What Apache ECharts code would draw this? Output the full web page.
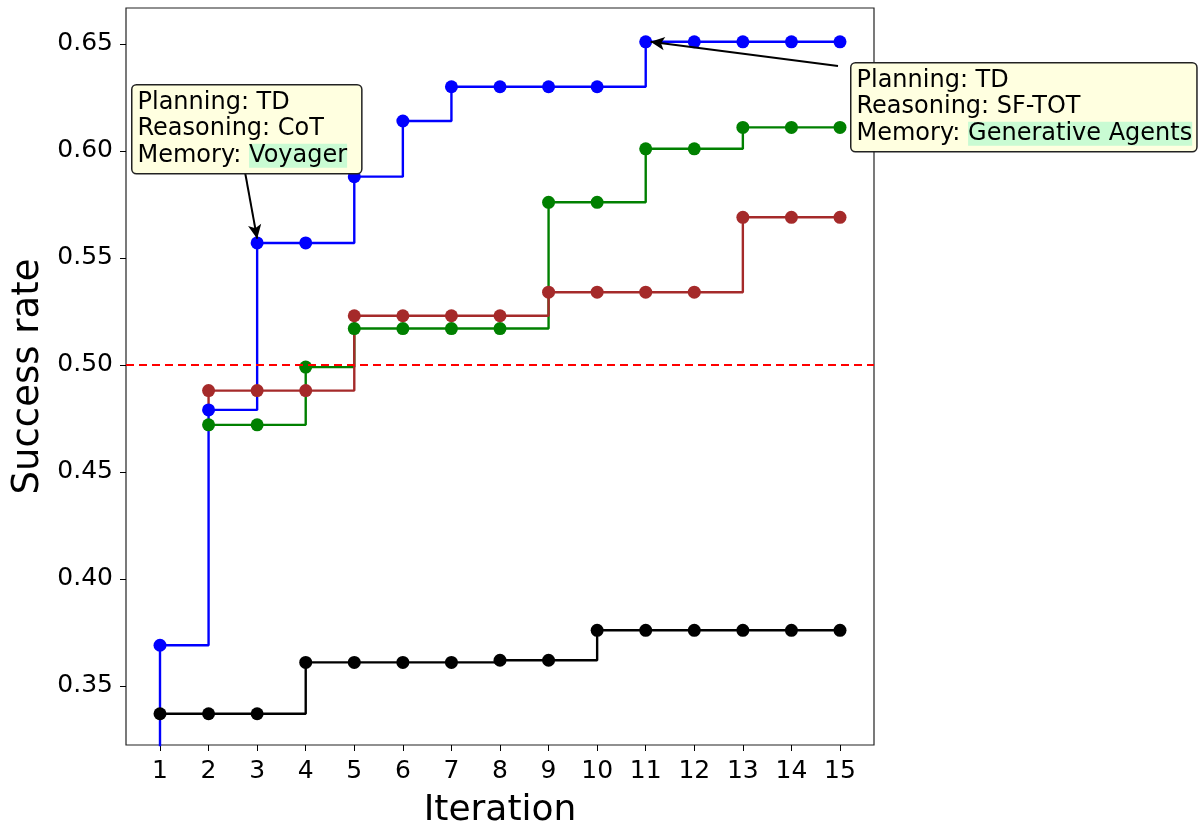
<!DOCTYPE html>
<html>
<head>
<meta charset="utf-8">
<script src="https://cdn.jsdelivr.net/npm/echarts@6/dist/echarts.min.js"></script>
<style>html,body{margin:0;padding:0;background:#fff}#c{width:1199px;height:822px}</style>
</head>
<body>
<div id="c"></div>
<script>
const iterations = [1,2,3,4,5,6,7,8,9,10,11,12,13,14,15];
const xTicks = [1,2,3,4,5,6,7,8,9,10,11,12,13,14,15];
const yTicks = [0.35,0.40,0.45,0.50,0.55,0.60,0.65];
const blueVals  = [0.369,0.479,0.557,0.557,0.588,0.614,0.630,0.630,0.630,0.630,0.651,0.651,0.651,0.651,0.651];
const greenVals = [null,0.472,0.472,0.499,0.517,0.517,0.517,0.517,0.576,0.576,0.601,0.601,0.611,0.611,0.611];
const redVals   = [null,0.488,0.488,0.488,0.523,0.523,0.523,0.523,0.534,0.534,0.534,0.534,0.569,0.569,0.569];
const blackVals = [0.337,0.337,0.337,0.361,0.361,0.361,0.361,0.362,0.362,0.376,0.376,0.376,0.376,0.376,0.376];
const baseline = 0.502;
const blueLead = 0.30;   // line continues below the axis at iteration 1
const redLead = 0.479;   // short riser at iteration 2
const ann1 = {iter: 3, value: 0.557, planning: 'TD', reasoning: 'CoT', memory: 'Voyager'};
const ann2 = {iter: 11, value: 0.651, planning: 'TD', reasoning: 'SF-TOT', memory: 'Generative Agents'};

function pts(vals){
  const out = [];
  vals.forEach((v,i)=>{ if(v!==null) out.push([iterations[i], v]); });
  return out;
}
const FONT = 'DejaVu Sans';
const chart = echarts.init(document.getElementById('c'), null, {renderer:'canvas'});

function mkSeries(name, color, data, extra){
  return Object.assign({
    name, type:'line', step:'end', data,
    symbol:'circle', symbolSize:13,
    itemStyle:{color},
    lineStyle:{color, width:2.4},
    animation:false, clip:true
  }, extra||{});
}
const blueData = [{value:[1, blueLead], symbolSize:0}].concat(pts(blueVals));
const redData = [{value:[2, redLead], symbolSize:0}].concat(pts(redVals));

function annText(a){
  return '{t|Planning: ' + a.planning + '}\n{t|Reasoning: ' + a.reasoning + '}\n{t|Memory: }{h|' + a.memory + '}';
}
const richStyle = {
  t:{fontFamily:FONT, fontSize:24, lineHeight:26.5, color:'#000'},
  h:{fontFamily:FONT, fontSize:24, lineHeight:26.5, color:'#000', backgroundColor:'#c9fbd3'}
};

chart.setOption({
  animation:false,
  grid:{left:126, right:325, top:8, bottom:77, outerBoundsMode:'none', containLabel:false,
        show:true, borderColor:'#222', borderWidth:1.2, backgroundColor:'transparent'},
  xAxis:{
    type:'value', min:0.3, max:15.7,
    name:'Iteration', nameLocation:'middle', nameGap:48,
    nameTextStyle:{fontFamily:FONT, fontSize:36, color:'#000'},
    axisLine:{show:false},
    splitLine:{show:false},
    axisTick:{show:true, length:6, inside:false, lineStyle:{color:'#000', width:1}, customValues:xTicks},
    axisLabel:{fontFamily:FONT, fontSize:25, color:'#000', margin:14, customValues:xTicks, formatter:v=>String(v)}
  },
  yAxis:{
    type:'value', min:0.3224, max:0.6668,
    name:'Success rate', nameLocation:'middle', nameGap:72,
    nameTextStyle:{fontFamily:FONT, fontSize:37, color:'#000'},
    axisLine:{show:false},
    splitLine:{show:false},
    axisTick:{show:true, length:6, inside:false, lineStyle:{color:'#000', width:1}, customValues:yTicks},
    axisLabel:{fontFamily:FONT, fontSize:25, color:'#000', margin:13, customValues:yTicks, formatter:v=>v.toFixed(2)}
  },
  series:[
    mkSeries('black', '#000000', pts(blackVals)),
    mkSeries('green', '#008000', pts(greenVals)),
    mkSeries('red', '#a52a2a', redData, {
      markLine:{
        silent:true, symbol:['none','none'], animation:false,
        label:{show:false},
        lineStyle:{color:'#ff0000', type:[8,5], width:2},
        data:[{yAxis:baseline}]
      }
    }),
    mkSeries('blue', '#0000ff', blueData, {
      markLine:{
        silent:true, symbol:['none','arrow'], symbolSize:[10,14], animation:false,
        label:{show:false},
        lineStyle:{color:'#000', type:'solid', width:2},
        data:[
          [{x:245, y:172}, {coord:[ann1.iter, ann1.value + 0.002]}],
          [{x:838, y:66}, {coord:[ann2.iter + 0.1, ann2.value]}]
        ]
      }
    })
  ],
  graphic:[
    {type:'text', left:131, top:84, z:100, style:{
      text:annText(ann1), rich:richStyle,
      backgroundColor:'#ffffe0', borderColor:'#222', borderWidth:1.5, borderRadius:4, padding:[4,14,4,5]
    }},
    {type:'text', left:850, top:62, z:100, style:{
      text:annText(ann2), rich:richStyle,
      backgroundColor:'#ffffe0', borderColor:'#222', borderWidth:1.5, borderRadius:4, padding:[4,4,4,5]
    }}
  ]
});
</script>
</body>
</html>
